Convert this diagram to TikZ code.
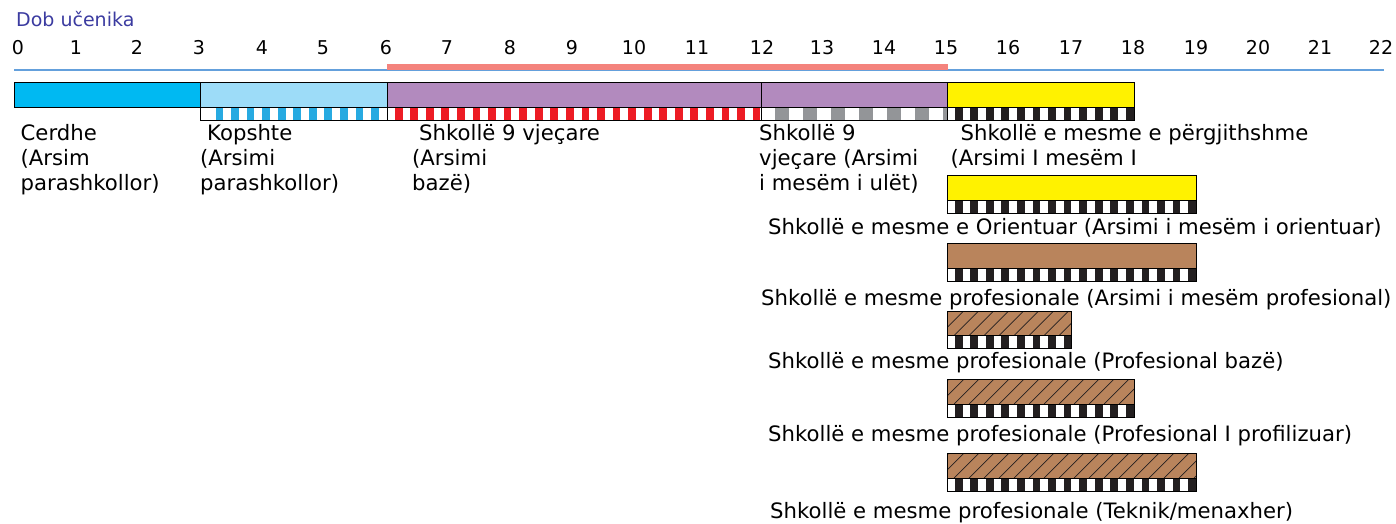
\documentclass[tikz,border=0pt]{standalone}
\usepackage{fontspec}
\setmainfont{DejaVu Sans}
\definecolor{cCer}{RGB}{0,185,242}
\definecolor{cKop}{RGB}{157,220,248}
\definecolor{cKopS}{RGB}{39,170,225}
\definecolor{cPur}{RGB}{178,138,190}
\definecolor{cRed}{RGB}{237,28,36}
\definecolor{cGray}{RGB}{147,149,152}
\definecolor{cYel}{RGB}{255,242,0}
\definecolor{cBlk}{RGB}{35,31,32}
\definecolor{cBrn}{RGB}{185,132,92}
\definecolor{cAxis}{RGB}{100,160,220}
\definecolor{cPink}{RGB}{244,131,125}
\definecolor{cTitle}{RGB}{59,59,160}
\newcommand\mystrip[7]{%
  \begin{scope}
    \clip (#1,#3) rectangle (#2,#4);
    \fill[white] (#1,#3) rectangle (#2,#4);
    \pgfmathtruncatemacro\myn{ceil((#2-#1)/(2*#6))+1}
    \foreach \k in {0,...,\myn}{%
      \fill[#5] ({#1+#7+2*#6*\k},#3) rectangle ({#1+#7+#6+2*#6*\k},#4);}
  \end{scope}
  \draw[barline] (#1,#3) rectangle (#2,#4);}
\newcommand\myhatch[4]{%
  \begin{scope}
    \clip (#1,#3) rectangle (#2,#4);
    \pgfmathtruncatemacro\myn{ceil((#2-#1)/15)+1}
    \foreach \k in {-2,...,\myn}{%
      \draw[hatchline] ({#1+7+15*\k},#4) -- ({#1+7+15*\k+(#4-#3)},#3);}
  \end{scope}}
\begin{document}
\begin{tikzpicture}[x=1pt,y=-1pt,
  barline/.style={draw=black,line width=0.9pt},
  hatchline/.style={draw=cBlk,line width=0.7pt},
  lbl/.style={anchor=base west,inner sep=0pt,font=\fontsize{21.2}{25}\selectfont},
  tick/.style={anchor=base,inner sep=0pt,font=\fontsize{19}{22}\selectfont}]
\useasboundingbox (0,0) rectangle (1396,524);
% title and axis
\node[anchor=base west,inner sep=0pt,font=\fontsize{19}{22}\selectfont,text=cTitle] (title) at (16,27) {Dob učenika};
\foreach \v/\x in {0/18,1/76,2/137,3/199,4/262,5/323,6/386,7/447,8/510,9/572,10/634,11/697,12/762,13/822,14/884,15/946,16/1008,17/1071,18/1133,19/1196,20/1258,21/1320,22/1381}
  \node[tick] (t\v) at (\x,55) {\v};
\draw[cAxis,line width=2pt] (14,70) -- (1384,70);
\fill[cPink] (387,64.5) rectangle (948,70.5);
% main row
\fill[cCer] (14,82) rectangle (200,107); \draw[barline] (14,82) rectangle (200,107);
\fill[cKop] (200,82) rectangle (387,107); \draw[barline] (200,82) rectangle (387,107);
\mystrip{200}{387}{107}{120}{cKopS}{7.78}{15.56}
\fill[cPur] (387,82) rectangle (761,107); \draw[barline] (387,82) rectangle (761,107);
\mystrip{387}{761}{107}{120}{cRed}{7.78}{7.78}
\fill[cPur] (761,82) rectangle (947,107); \draw[barline] (761,82) rectangle (947,107);
\mystrip{761}{947}{107}{120}{cGray}{14}{14}
\fill[cYel] (947,82) rectangle (1134,107); \draw[barline] (947,82) rectangle (1134,107);
\mystrip{947}{1134}{107}{120}{cBlk}{7.78}{7.78}
% second yellow
\fill[cYel] (947,175) rectangle (1196,200); \draw[barline] (947,175) rectangle (1196,200);
\mystrip{947}{1196}{200}{213}{cBlk}{7.78}{7.78}
% brown
\fill[cBrn] (947,243) rectangle (1196,268); \draw[barline] (947,243) rectangle (1196,268);
\mystrip{947}{1196}{268}{281}{cBlk}{7.78}{7.78}
% hatched 1
\fill[cBrn] (947,311) rectangle (1071,335.5); \myhatch{947}{1071}{311}{335.5}
\draw[barline] (947,311) rectangle (1071,335.5);
\mystrip{947}{1071}{335.5}{348}{cBlk}{7.78}{7.78}
% hatched 2
\fill[cBrn] (947,379) rectangle (1134,404); \myhatch{947}{1134}{379}{404}
\draw[barline] (947,379) rectangle (1134,404);
\mystrip{947}{1134}{404}{417}{cBlk}{7.78}{7.78}
% hatched 3
\fill[cBrn] (947,453) rectangle (1196,478); \myhatch{947}{1196}{453}{478}
\draw[barline] (947,453) rectangle (1196,478);
\mystrip{947}{1196}{478}{491}{cBlk}{7.78}{7.78}
% labels main row
\node[lbl] (c1) at (20.5,140.5) {Cerdhe};
\node[lbl] (c2) at (20.5,165.5) {(Arsim};
\node[lbl] (c3) at (20.5,190.5) {parashkollor)};
\node[lbl] (k1) at (207,140.5) {Kopshte};
\node[lbl] (k2) at (200,165.5) {(Arsimi};
\node[lbl] (k3) at (200,190.5) {parashkollor)};
\node[lbl] (s1) at (419,140.5) {Shkollë 9 vjeçare};
\node[lbl] (s2) at (412,165.5) {(Arsimi};
\node[lbl] (s3) at (412,190.5) {bazë)};
\node[lbl] (u1) at (759,140.5) {Shkollë 9};
\node[lbl] (u2) at (759,165.5) {vjeçare (Arsimi};
\node[lbl] (u3) at (759,190.5) {i mesëm i ulët)};
\node[lbl] (g1) at (960.5,140.5) {Shkollë e mesme e përgjithshme};
\node[lbl] (g2) at (950.5,165.5) {(Arsimi I mesëm I};
% labels lower bars
\node[lbl] (o1) at (768,234) {Shkollë e mesme e Orientuar (Arsimi i mesëm i orientuar)};
\node[lbl] (p1) at (761,305) {Shkollë e mesme profesionale (Arsimi i mesëm profesional)};
\node[lbl] (p2) at (768,368.5) {Shkollë e mesme profesionale (Profesional bazë)};
\node[lbl] (p3) at (768,441.5) {Shkollë e mesme profesionale (Profesional I profilizuar)};
\node[lbl] (p4) at (770,518) {Shkollë e mesme profesionale (Teknik/menaxher)};
\end{tikzpicture}
\end{document}
